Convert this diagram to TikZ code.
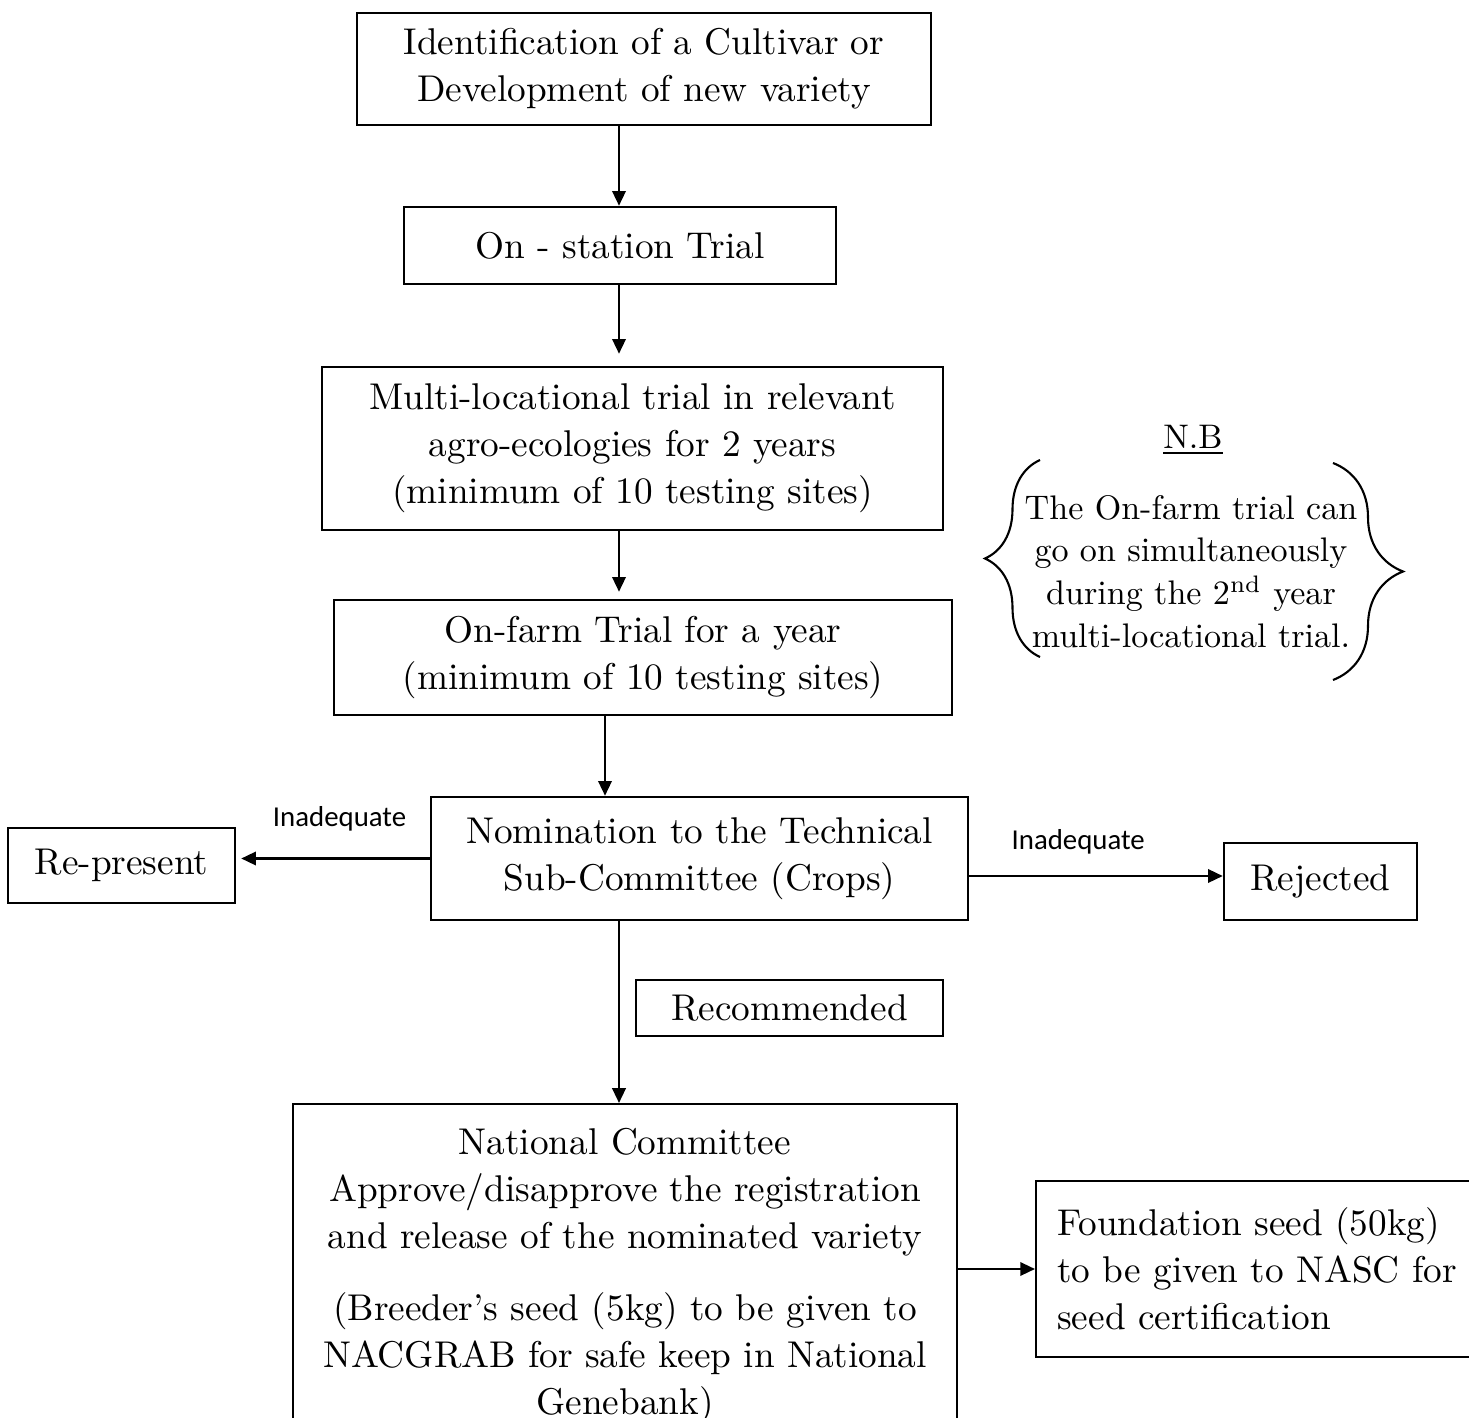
\documentclass[tikz,border=0pt]{standalone}
\usepackage{fontspec}
\newfontfamily\labelfont{Carlito}
\usetikzlibrary{arrows.meta, positioning, decorations.pathreplacing}
\newcommand{\boxsize}{\fontsize{10.6}{13.4}\selectfont}
\newcommand{\notesize}{\fontsize{9.7}{12.2}\selectfont}

\begin{document}
\begin{tikzpicture}[
  stage/.style={draw, line width=0.7pt, align=center, inner sep=0pt, font=\boxsize},
  arr/.style={-{Triangle[length=4.2pt, width=3.8pt]}, line width=0.7pt},
  lbl/.style={font=\labelfont\fontsize{8.2}{10}\selectfont, inner sep=0pt}
]
\useasboundingbox (0,0) rectangle (14.69,-14.18);
\clip (0,0) rectangle (14.69,-14.18);
% the main column of boxes
\node[stage, minimum width=5.74cm, minimum height=1.12cm] (ident) at (6.44,-0.69) {Identification of a Cultivar or\\ Development of new variety};
\node[stage, minimum width=4.32cm, minimum height=0.77cm] (station) at (6.20,-2.455) {On - station Trial};
\node[stage, minimum width=6.21cm, minimum height=1.63cm] (multi) at (6.325,-4.485) {Multi-locational trial in relevant\\ agro-ecologies for 2 years\\ (minimum of 10 testing sites)};
\node[stage, minimum width=6.18cm, minimum height=1.15cm] (onfarm) at (6.43,-6.575) {On-farm Trial for a year\\ (minimum of 10 testing sites)};
\node[stage, minimum width=5.37cm, minimum height=1.23cm] (nomin) at (6.995,-8.585) {Nomination to the Technical\\ Sub-Committee (Crops)};
\node[stage, minimum width=6.64cm, anchor=north, inner ysep=0.24cm] (natl) at (6.25,-11.03) {National Committee\\ Approve/disapprove the registration\\ and release of the nominated variety\\[7pt] (Breeder's seed (5kg) to be given to\\ NACGRAB for safe keep in National\\ Genebank)};
% the boxes at the sides
\node[stage, minimum width=2.27cm, minimum height=0.75cm] (repres) at (1.215,-8.655) {Re-present};
\node[stage, minimum width=1.93cm, minimum height=0.77cm] (reject) at (13.205,-8.815) {Rejected};
\node[stage, minimum width=3.07cm, minimum height=0.56cm] (recom) at (7.895,-10.08) {Recommended};
\node[stage, anchor=west, align=left, text width=4.44cm, inner xsep=0.21cm, minimum height=1.76cm] (found) at (10.35,-12.69) {Foundation seed (50kg)\\ to be given to NASC for\\ seed certification};
% the note with its two braces
\node[font=\notesize, inner sep=0pt] (nbhead) at (11.93,-4.40) {\underline{N.B}};
\node[font=\notesize, align=center, inner sep=0pt] (note) at (11.91,-5.715) {The On-farm trial can\\ go on simultaneously\\ during the 2\textsuperscript{nd} year\\ multi-locational trial.};
\draw[line width=0.6pt, decorate, decoration={brace, amplitude=0.55cm}] (10.40,-6.57) -- (10.40,-4.60);
\draw[line width=0.6pt, decorate, decoration={brace, amplitude=0.70cm}] (13.33,-4.63) -- (13.33,-6.80);
% the arrows down the column
\coordinate (spine) at (6.19,0);
\coordinate (spineb) at (6.05,0);
\draw[arr] (ident.south -| spine) -- (station.north -| spine);
\draw[arr, shorten >=0.12cm] (station.south -| spine) -- (multi.north -| spine);
\draw[arr, shorten >=0.07cm] (multi.south -| spine) -- (onfarm.north -| spine);
\draw[arr] (onfarm.south -| spineb) -- (nomin.north -| spineb);
\draw[arr] (nomin.south -| spine) -- (natl.north -| spine);
% the arrows to the sides
\draw[arr, shorten >=0.05cm] (nomin.west) -- node[lbl, pos=0.466, above=0.26cm] {Inadequate} (nomin.west -| repres.east);
\draw[arr] ([yshift=-0.175cm]nomin.east) -- node[lbl, pos=0.43, above=0.21cm] {Inadequate} ([yshift=-0.175cm]nomin.east -| reject.west);
\draw[arr] (found.west -| natl.east) -- (found.west);
\end{tikzpicture}
\end{document}
